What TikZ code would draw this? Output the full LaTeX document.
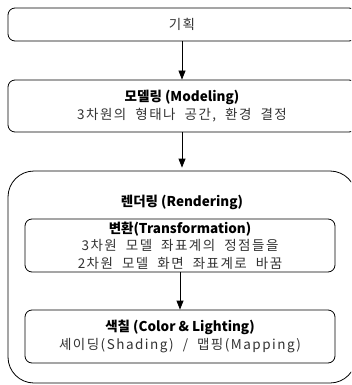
\documentclass[tikz,border=0pt]{standalone}
\usepackage{fontspec}
\setmainfont{Noto Sans CJK KR}
\newfontfamily\subfont[LetterSpace=11, WordSpace=2]{Noto Sans CJK KR}
\usetikzlibrary{arrows.meta}
\definecolor{subgray}{HTML}{333333}
\tikzset{
  box/.style={draw=black, line width=0.8pt, rounded corners=7pt, inner sep=0pt, align=center,
    font=\fontsize{13.5}{17.5}\selectfont},
  bigbox/.style={draw=black, line width=0.8pt, rounded corners=26pt, inner sep=0pt},
  arr/.style={-{Triangle[width=7pt,length=9pt]}, line width=0.8pt},
}
\newcommand{\sub}[1]{{\subfont\color{subgray}#1}}
\begin{document}
\begin{tikzpicture}[x=1pt,y=1pt]
\useasboundingbox (0,0) rectangle (351,-385);
\clip (0,0) rectangle (351,-385);
\node[box, minimum width=348pt, minimum height=33pt] (plan) at (182,-24.5) {\sub{기획}};
\node[box, minimum width=348pt, minimum height=52pt] (model) at (182,-106)
  {\textbf{모델링 (Modeling)}\\ \sub{3차원의 형태나 공간, 환경 결정}};
\node[bigbox, minimum width=348pt, minimum height=212pt] (render) at (182,-277) {};
\node[font=\fontsize{13.5}{17}\selectfont\bfseries, inner sep=0pt] (rtitle) at (182,-202) {렌더링 (Rendering)};
\node[box, minimum width=310pt, minimum height=53pt] (trans) at (180,-245.5)
  {\textbf{변환(Transformation)}\\ \sub{3차원 모델 좌표계의 정점들을}\\ \sub{2차원 모델 화면 좌표계로 바꿈}};
\node[box, minimum width=310pt, minimum height=53pt] (color) at (180,-336.5)
  {\textbf{색칠 (Color \& Lighting)}\\ \sub{셰이딩(Shading) / 맵핑(Mapping)}};
\draw[arr] (plan) -- (model);
\draw[arr, shorten >=3pt] (model) -- (render);
\draw[arr] (trans) -- (color);
\end{tikzpicture}
\end{document}
